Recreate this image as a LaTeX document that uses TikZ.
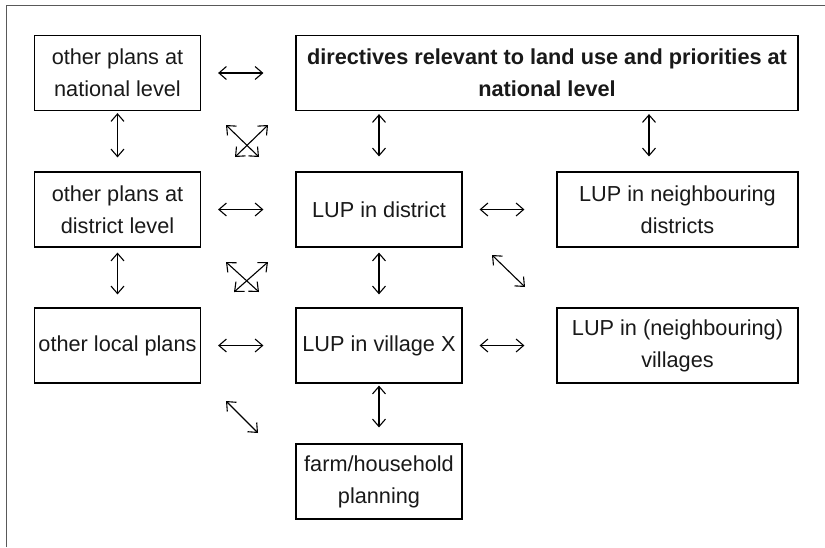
\documentclass[tikz,border=0pt]{standalone}
\usepackage{fontspec}
\setmainfont{Liberation Sans}
\usetikzlibrary{arrows.meta,calc}
\begin{document}
\begin{tikzpicture}[x=1pt,y=-1pt,
  box/.style={draw=black,line width=1.2pt,rectangle,align=center,inner sep=0pt,
    font=\fontsize{21.7}{32}\selectfont,text=black!90},
  small/.style={box,minimum width=166pt,minimum height=75pt},
  wide/.style={box,minimum width=241pt,minimum height=75pt},
  link/.style={line width=1.1pt,{Straight Barb[length=7.5pt,width=13pt]}-{Straight Barb[length=7.5pt,width=13pt]}},
  hlink/.style={link,shorten <=17pt,shorten >=32pt},
  vlink/.style={link,shorten <=3pt,shorten >=15pt},
  frame/.style={draw=black!65,line width=1.6pt}]
\useasboundingbox (0,0) rectangle (825,547);
\fill[white] (0,0) rectangle (825,547);
\draw[frame] (6.5,547) -- (6.5,5.5) -- (825,5.5);

\node[small] (A) at (117.5,73) {other plans at\\national level};
\node[box,minimum width=502pt,minimum height=75pt] (B) at (547,73) {\bfseries directives relevant to land use and priorities at\\\bfseries national level};
\node[small] (C) at (117.5,209.5) {other plans at\\district level};
\node[small] (D) at (379,209.5) {LUP in district};
\node[wide] (E) at (677.5,209.5) {LUP in neighbouring\\districts};
\node[small] (F) at (117.5,345.5) {other local plans};
\node[small] (G) at (379,345.5) {LUP in village X};
\node[wide] (H) at (677.5,345.5) {LUP in (neighbouring)\\villages};
\node[small] (I) at (379,481.5) {farm/household\\planning};

% horizontal links
\draw[hlink] (A.east) -- (B.west |- A.east);
\draw[hlink] (C.east) -- (D.west);
\draw[hlink] (D.east) -- (E.west);
\draw[hlink] (F.east) -- (G.west);
\draw[hlink] (G.east) -- (H.west);

% vertical links
\draw[link,shorten <=2pt,shorten >=14pt] (A.south) -- (C.north);
\draw[link,shorten <=5pt,shorten >=13pt] (C.south) -- (F.north);
\draw[vlink] (D.north |- B.south) -- (D.north);
\draw[vlink] (B.south -| 649,0) -- (E.north -| 649,0);
\draw[link,shorten <=5pt,shorten >=13pt] (D.south) -- (G.north);
\draw[link,shorten <=2pt,shorten >=16pt] (G.south) -- (I.north);

% diagonal links
\coordinate (x1a) at (226,125); \coordinate (x1b) at (259,157);
\coordinate (x2a) at (268,125); \coordinate (x2b) at (235,157);
\coordinate (x3a) at (226,262); \coordinate (x3b) at (259,292);
\coordinate (x4a) at (268,262); \coordinate (x4b) at (234,292);
\coordinate (d1a) at (492,255); \coordinate (d1b) at (525,287);
\coordinate (d2a) at (226,401); \coordinate (d2b) at (258,433);
\draw[link] (x1a) -- (x1b);
\draw[link] (x2a) -- (x2b);
\draw[link] (x3a) -- (x3b);
\draw[link] (x4a) -- (x4b);
\draw[link] (d1a) -- (d1b);
\draw[link] (d2a) -- (d2b);
\end{tikzpicture}
\end{document}
